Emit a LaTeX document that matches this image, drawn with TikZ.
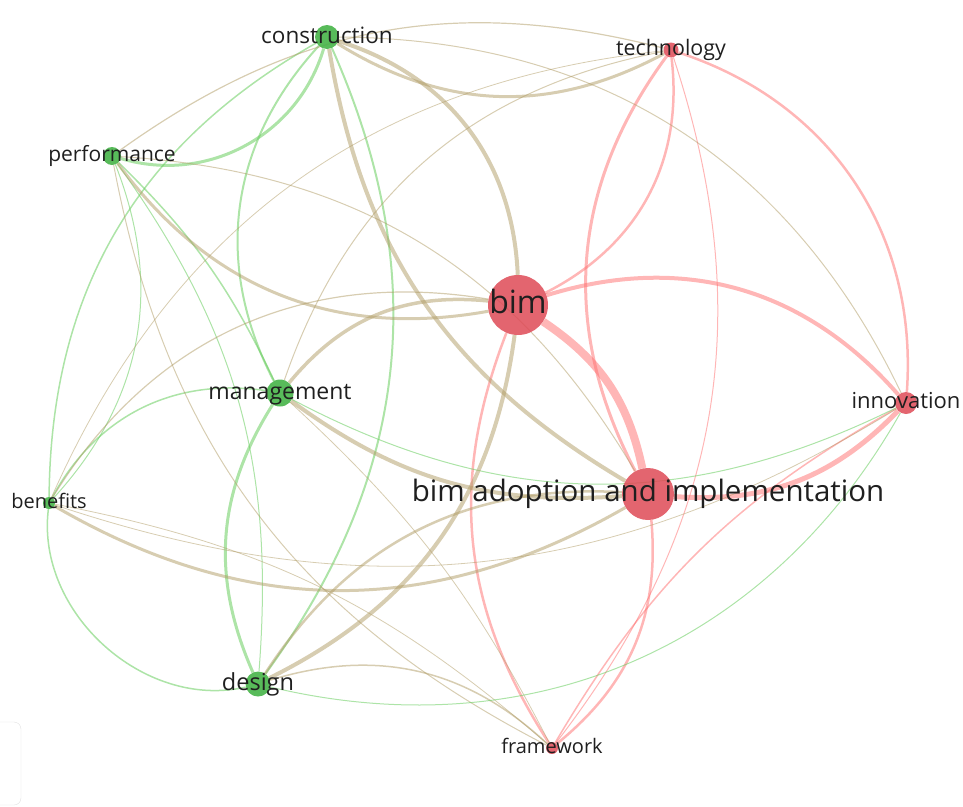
\documentclass[tikz,border=0pt]{standalone}
\usepackage{fontspec}
\setmainfont{Open Sans}
\usepackage{xcolor}
\usetikzlibrary{backgrounds}

\definecolor{termgreen}{RGB}{70,180,72}
\definecolor{termred}{RGB}{222,74,86}
\definecolor{linkgreen}{RGB}{105,205,95}
\definecolor{linkred}{RGB}{255,110,110}
\definecolor{linktan}{RGB}{175,155,100}

\begin{document}
\begin{tikzpicture}[
    x=1pt, y=-1pt,
    gterm/.style={circle, fill=termgreen, fill opacity=0.9, inner sep=0pt, minimum size=#1},
    rterm/.style={circle, fill=termred, fill opacity=0.85, inner sep=0pt, minimum size=#1},
    word/.style={font=\fontsize{#1}{#1}\selectfont, text=black!88, inner sep=0pt,
                 anchor=base, yshift=-0.27*#1pt},
    glink/.style={draw=linkgreen, draw opacity=0.55, line width=#1},
    rlink/.style={draw=linkred, draw opacity=0.5, line width=#1},
    tlink/.style={draw=linktan, draw opacity=0.5, line width=#1},
]
    \useasboundingbox (0,0) rectangle (963,806);

    % ── Terms ─────────────────────────────────────
    \node[gterm=24] (constr) at (327,37)  {};
    \node[rterm=15] (tech)   at (671,50)  {};
    \node[gterm=18] (perf)   at (112,156) {};
    \node[rterm=60] (bim)    at (518,305) {};
    \node[gterm=27] (manag)  at (280,393) {};
    \node[rterm=22] (innov)  at (906,403) {};
    \node[gterm=12] (benef)  at (49,503)  {};
    \node[rterm=52] (adopt)  at (648,494) {};
    \node[gterm=25] (design) at (258,684) {};
    \node[rterm=12] (frame)  at (552,748) {};

    \node[word=22.5] (constr-t) at (constr) {construction};
    \node[word=21.4] (tech-t)   at (tech)   {technology};
    \node[word=21]   (perf-t)   at (perf)   {performance};
    \node[word=32]   (bim-t)    at (bim)    {bim};
    \node[word=23]   (manag-t)  at (manag)  {management};
    \node[word=22]   (innov-t)  at (innov)  {innovation};
    \node[word=20]   (benef-t)  at (benef)  {benefits};
    \node[word=29.5] (adopt-t)  at (adopt)  {bim adoption and implementation};
    \node[word=23.5] (design-t) at (design) {design};
    \node[word=20]   (frame-t)  at (frame)  {framework};

    \begin{scope}[on background layer]
    % ── Red cluster ───────────────────────────────
    \draw[rlink=8]   (bim)   to[bend left=22]  (adopt);
    \draw[rlink=4]   (bim)   to[bend left=33]  (innov);
    \draw[rlink=5]   (adopt) to[bend right=25] (innov);
    \draw[rlink=2.5] (bim)   to[bend right=35] (tech);
    \draw[rlink=3]   (tech)  to[bend right=32] (adopt);
    \draw[rlink=2.5] (tech)  to[bend left=38]  (innov);
    \draw[rlink=1]   (tech)  to[bend left=28]  (frame);
    \draw[rlink=2.5] (bim)   to[bend right=27] (frame);
    \draw[rlink=2.5] (adopt) to[bend left=28]  (frame);
    \draw[rlink=1.5] (innov) to[bend right=15] (frame);

    % ── Green cluster ─────────────────────────────
    \draw[glink=3]   (perf)  to[bend right=45] (constr);
    \draw[glink=1.5] (benef) to[bend left=30]  (constr);
    \draw[glink=2]   (constr) to[bend right=35] (manag);
    \draw[glink=2]   (constr) to[bend left=30]  (design);
    \draw[glink=1.5] (perf)  to[bend left=10]  (manag);
    \draw[glink=1]   (benef) to[bend right=32] (perf);
    \draw[glink=1]   (perf)  to[bend left=20]  (design);
    \draw[glink=1.5] (benef) to[bend left=35]  (manag);
    \draw[glink=1.5] (benef) to[bend right=55] (design);
    \draw[glink=3]   (manag) to[bend right=28] (design);

    % ── Links across clusters ─────────────────────
    \draw[tlink=4]   (constr) to[bend left=35]  (bim);
    \draw[tlink=4]   (constr) to[bend right=25] (adopt);
    \draw[tlink=3]   (constr) to[bend right=30] (tech);
    \draw[tlink=1]   (constr) to[bend left=32]  (innov);
    \draw[tlink=1.2] (perf)  to[bend left=25]  (tech);
    \draw[tlink=3]   (perf)  to[bend right=32] (bim);
    \draw[tlink=1]   (perf)  to[bend left=28]  (adopt);
    \draw[tlink=1]   (perf)  to[bend right=26] (frame);
    \draw[tlink=3.5] (manag) to[bend left=28]  (bim);
    \draw[tlink=4]   (manag) to[bend right=20] (adopt);
    \draw[tlink=1]   (manag) to[bend left=30]  (tech);
    \draw[glink=1]   (manag) to[bend right=27] (innov);
    \draw[tlink=0.8] (manag) to[bend left=10]  (frame);
    \draw[tlink=1.2] (benef) to[bend left=34]  (bim);
    \draw[tlink=3]   (benef) to[bend right=30] (adopt);
    \draw[tlink=0.8] (benef) to[bend left=30]  (tech);
    \draw[tlink=0.8] (benef) to[bend left=15]  (frame);
    \draw[tlink=0.8] (benef) to[bend right=25] (innov);
    \draw[tlink=4]   (design) to[bend right=28] (bim);
    \draw[tlink=2.5] (design) to[bend left=30]  (adopt);
    \draw[tlink=1.5] (design) to[bend left=30]  (frame);
    \draw[glink=1]   (design) to[bend right=37] (innov);
    \end{scope}

    % ── Panel corner ──────────────────────────────
    \draw[black!12, rounded corners=7] (-20,722) rectangle (21,805);
\end{tikzpicture}
\end{document}
